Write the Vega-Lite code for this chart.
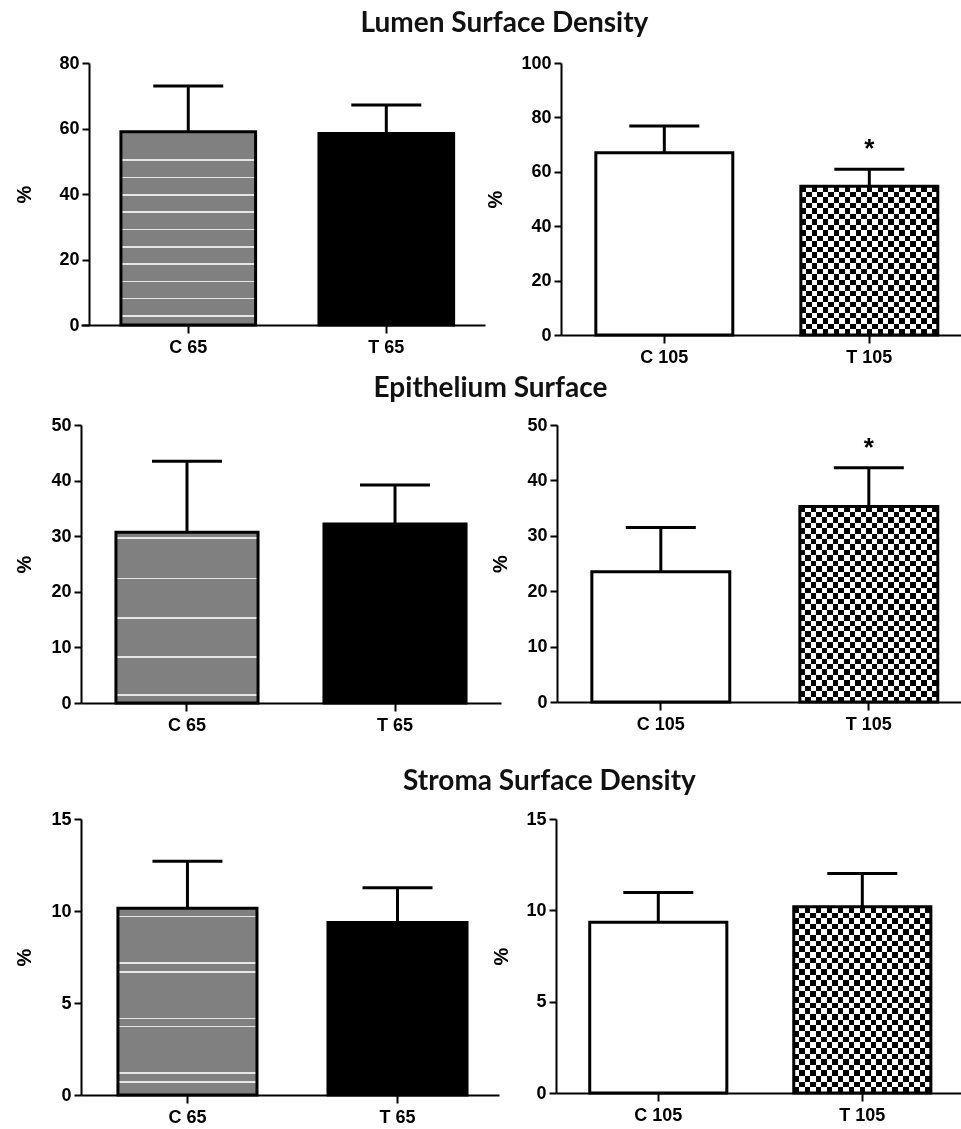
{
"$schema":"https://vega.github.io/schema/vega-lite/v6.json",
"padding":{"left":14,"top":10,"right":0,"bottom":0},
"background":"white",
"datasets":{"bars":[
{"panel":"p1","group":"C 65","mean":59,"upper":73,"sig":""},
{"panel":"p1","group":"T 65","mean":58.5,"upper":67.2,"sig":""},
{"panel":"p2","group":"C 105","mean":67,"upper":76.8,"sig":""},
{"panel":"p2","group":"T 105","mean":54.7,"upper":60.9,"sig":"*"},
{"panel":"p3","group":"C 65","mean":30.7,"upper":43.5,"sig":""},
{"panel":"p3","group":"T 65","mean":32.2,"upper":39.2,"sig":""},
{"panel":"p4","group":"C 105","mean":23.5,"upper":31.5,"sig":""},
{"panel":"p4","group":"T 105","mean":35.3,"upper":42.3,"sig":"*"},
{"panel":"p5","group":"C 65","mean":10.15,"upper":12.7,"sig":""},
{"panel":"p5","group":"T 65","mean":9.37,"upper":11.27,"sig":""},
{"panel":"p6","group":"C 105","mean":9.35,"upper":10.98,"sig":""},
{"panel":"p6","group":"T 105","mean":10.19,"upper":12.01,"sig":""}
]},
"data":{"name":"bars"},
"columns":1,
"spacing":9,
"concat":[
{"title":{"text":"Lumen Surface Density","dx":16,"offset":16,"anchor":"middle"},"spacing":0,"hconcat":[
{"width":404,"height":262,
"transform":[{"filter":"datum.panel === 'p1'"}],
"encoding":{"x":{"field":"group","type":"nominal","sort":null,"scale":{"domain":["C 65","T 65"],"paddingInner":0.32,"paddingOuter":0.18,"align":0.56},"axis":{"title":null}}},
"layer":[
{"transform":[{"filter":"datum.group === 'C 65'"}],"mark":{"type":"bar","stroke":"black","strokeWidth":3,"fill":{"gradient":"linear","x1":0,"y1":0,"x2":0,"y2":1,"stops":[{"offset":0,"color":"#808080"},{"offset":0.143,"color":"#808080"},{"offset":0.143,"color":"#e6e6e6"},{"offset":0.151,"color":"#e6e6e6"},{"offset":0.151,"color":"#808080"},{"offset":0.232,"color":"#808080"},{"offset":0.232,"color":"#e6e6e6"},{"offset":0.24,"color":"#e6e6e6"},{"offset":0.24,"color":"#808080"},{"offset":0.322,"color":"#808080"},{"offset":0.322,"color":"#e6e6e6"},{"offset":0.33,"color":"#e6e6e6"},{"offset":0.33,"color":"#808080"},{"offset":0.412,"color":"#808080"},{"offset":0.412,"color":"#e6e6e6"},{"offset":0.42,"color":"#e6e6e6"},{"offset":0.42,"color":"#808080"},{"offset":0.501,"color":"#808080"},{"offset":0.501,"color":"#e6e6e6"},{"offset":0.509,"color":"#e6e6e6"},{"offset":0.509,"color":"#808080"},{"offset":0.591,"color":"#808080"},{"offset":0.591,"color":"#e6e6e6"},{"offset":0.599,"color":"#e6e6e6"},{"offset":0.599,"color":"#808080"},{"offset":0.68,"color":"#808080"},{"offset":0.68,"color":"#e6e6e6"},{"offset":0.688,"color":"#e6e6e6"},{"offset":0.688,"color":"#808080"},{"offset":0.77,"color":"#808080"},{"offset":0.77,"color":"#e6e6e6"},{"offset":0.778,"color":"#e6e6e6"},{"offset":0.778,"color":"#808080"},{"offset":0.86,"color":"#808080"},{"offset":0.86,"color":"#e6e6e6"},{"offset":0.868,"color":"#e6e6e6"},{"offset":0.868,"color":"#808080"},{"offset":0.949,"color":"#808080"},{"offset":0.949,"color":"#e6e6e6"},{"offset":0.957,"color":"#e6e6e6"},{"offset":0.957,"color":"#808080"},{"offset":1,"color":"#808080"}]}},
"encoding":{"y":{"field":"mean","type":"quantitative","scale":{"domain":[0,80],"nice":false},"axis":{"values":[0,20,40,60,80],"title":"%","titlePadding":24,"offset":-8}}}},
{"transform":[{"filter":"datum.group === 'T 65'"}],"mark":{"type":"bar","fill":"black","stroke":"black","strokeWidth":3},
"encoding":{"y":{"field":"mean","type":"quantitative","scale":{"domain":[0,80],"nice":false},"axis":{"values":[0,20,40,60,80],"title":"%","titlePadding":24,"offset":-8}}}},
{"mark":{"type":"rule","color":"black","strokeWidth":3},
"encoding":{"y":{"field":"mean","type":"quantitative","scale":{"domain":[0,80],"nice":false},"axis":{"values":[0,20,40,60,80],"title":"%","titlePadding":24,"offset":-8}},"y2":{"field":"upper"}}},
{"mark":{"type":"tick","color":"black","opacity":1,"size":70,"thickness":3},
"encoding":{"y":{"field":"upper","type":"quantitative","scale":{"domain":[0,80],"nice":false},"axis":{"values":[0,20,40,60,80],"title":"%","titlePadding":24,"offset":-8}}}}
]},
{"width":401,"height":272,
"transform":[{"filter":"datum.panel === 'p2'"}],
"encoding":{"x":{"field":"group","type":"nominal","sort":null,"scale":{"domain":["C 105","T 105"],"paddingInner":0.332,"paddingOuter":0.144,"align":0.59},"axis":{"title":null}}},
"layer":[
{"transform":[{"filter":"datum.group === 'C 105'"}],"mark":{"type":"bar","fill":"white","stroke":"black","strokeWidth":3},
"encoding":{"y":{"field":"mean","type":"quantitative","scale":{"domain":[0,100],"nice":false},"axis":{"values":[0,20,40,60,80,100],"title":"%","titlePadding":15}}}},
{"transform":[{"filter":"datum.group === 'T 105'"}],"mark":{"type":"bar","fill":{"gradient":"linear","x1":0,"y1":0,"x2":0,"y2":1,"stops":[{"offset":0,"color":"#000"},{"offset":0.037,"color":"#000"},{"offset":0.037,"color":"#fff"},{"offset":0.0741,"color":"#fff"},{"offset":0.0741,"color":"#000"},{"offset":0.1111,"color":"#000"},{"offset":0.1111,"color":"#fff"},{"offset":0.1481,"color":"#fff"},{"offset":0.1481,"color":"#000"},{"offset":0.1852,"color":"#000"},{"offset":0.1852,"color":"#fff"},{"offset":0.2222,"color":"#fff"},{"offset":0.2222,"color":"#000"},{"offset":0.2593,"color":"#000"},{"offset":0.2593,"color":"#fff"},{"offset":0.2963,"color":"#fff"},{"offset":0.2963,"color":"#000"},{"offset":0.3333,"color":"#000"},{"offset":0.3333,"color":"#fff"},{"offset":0.3704,"color":"#fff"},{"offset":0.3704,"color":"#000"},{"offset":0.4074,"color":"#000"},{"offset":0.4074,"color":"#fff"},{"offset":0.4444,"color":"#fff"},{"offset":0.4444,"color":"#000"},{"offset":0.4815,"color":"#000"},{"offset":0.4815,"color":"#fff"},{"offset":0.5185,"color":"#fff"},{"offset":0.5185,"color":"#000"},{"offset":0.5556,"color":"#000"},{"offset":0.5556,"color":"#fff"},{"offset":0.5926,"color":"#fff"},{"offset":0.5926,"color":"#000"},{"offset":0.6296,"color":"#000"},{"offset":0.6296,"color":"#fff"},{"offset":0.6667,"color":"#fff"},{"offset":0.6667,"color":"#000"},{"offset":0.7037,"color":"#000"},{"offset":0.7037,"color":"#fff"},{"offset":0.7407,"color":"#fff"},{"offset":0.7407,"color":"#000"},{"offset":0.7778,"color":"#000"},{"offset":0.7778,"color":"#fff"},{"offset":0.8148,"color":"#fff"},{"offset":0.8148,"color":"#000"},{"offset":0.8519,"color":"#000"},{"offset":0.8519,"color":"#fff"},{"offset":0.8889,"color":"#fff"},{"offset":0.8889,"color":"#000"},{"offset":0.9259,"color":"#000"},{"offset":0.9259,"color":"#fff"},{"offset":0.963,"color":"#fff"},{"offset":0.963,"color":"#000"},{"offset":1,"color":"#000"}]}},
"encoding":{"y":{"field":"mean","type":"quantitative","scale":{"domain":[0,100],"nice":false},"axis":{"values":[0,20,40,60,80,100],"title":"%","titlePadding":15}}}},
{"transform":[{"filter":"datum.group === 'T 105'"}],"mark":{"type":"bar","blend":"difference","fill":{"gradient":"linear","x1":0,"y1":0,"x2":1,"y2":0,"stops":[{"offset":0,"color":"#000"},{"offset":0.04,"color":"#000"},{"offset":0.04,"color":"#fff"},{"offset":0.08,"color":"#fff"},{"offset":0.08,"color":"#000"},{"offset":0.12,"color":"#000"},{"offset":0.12,"color":"#fff"},{"offset":0.16,"color":"#fff"},{"offset":0.16,"color":"#000"},{"offset":0.2,"color":"#000"},{"offset":0.2,"color":"#fff"},{"offset":0.24,"color":"#fff"},{"offset":0.24,"color":"#000"},{"offset":0.28,"color":"#000"},{"offset":0.28,"color":"#fff"},{"offset":0.32,"color":"#fff"},{"offset":0.32,"color":"#000"},{"offset":0.36,"color":"#000"},{"offset":0.36,"color":"#fff"},{"offset":0.4,"color":"#fff"},{"offset":0.4,"color":"#000"},{"offset":0.44,"color":"#000"},{"offset":0.44,"color":"#fff"},{"offset":0.48,"color":"#fff"},{"offset":0.48,"color":"#000"},{"offset":0.52,"color":"#000"},{"offset":0.52,"color":"#fff"},{"offset":0.56,"color":"#fff"},{"offset":0.56,"color":"#000"},{"offset":0.6,"color":"#000"},{"offset":0.6,"color":"#fff"},{"offset":0.64,"color":"#fff"},{"offset":0.64,"color":"#000"},{"offset":0.68,"color":"#000"},{"offset":0.68,"color":"#fff"},{"offset":0.72,"color":"#fff"},{"offset":0.72,"color":"#000"},{"offset":0.76,"color":"#000"},{"offset":0.76,"color":"#fff"},{"offset":0.8,"color":"#fff"},{"offset":0.8,"color":"#000"},{"offset":0.84,"color":"#000"},{"offset":0.84,"color":"#fff"},{"offset":0.88,"color":"#fff"},{"offset":0.88,"color":"#000"},{"offset":0.92,"color":"#000"},{"offset":0.92,"color":"#fff"},{"offset":0.96,"color":"#fff"},{"offset":0.96,"color":"#000"},{"offset":1,"color":"#000"}]}},
"encoding":{"y":{"field":"mean","type":"quantitative","scale":{"domain":[0,100],"nice":false},"axis":{"values":[0,20,40,60,80,100],"title":"%","titlePadding":15}}}},
{"transform":[{"filter":"datum.group === 'T 105'"}],"mark":{"type":"bar","filled":false,"color":"black","stroke":"black","strokeWidth":3},
"encoding":{"y":{"field":"mean","type":"quantitative","scale":{"domain":[0,100],"nice":false},"axis":{"values":[0,20,40,60,80,100],"title":"%","titlePadding":15}}}},
{"mark":{"type":"rule","color":"black","strokeWidth":3},
"encoding":{"y":{"field":"mean","type":"quantitative","scale":{"domain":[0,100],"nice":false},"axis":{"values":[0,20,40,60,80,100],"title":"%","titlePadding":15}},"y2":{"field":"upper"}}},
{"mark":{"type":"tick","color":"black","opacity":1,"size":70,"thickness":3},
"encoding":{"y":{"field":"upper","type":"quantitative","scale":{"domain":[0,100],"nice":false},"axis":{"values":[0,20,40,60,80,100],"title":"%","titlePadding":15}}}},
{"mark":{"type":"text","font":"Liberation Sans","fontSize":26,"fontWeight":"bold","color":"black","baseline":"alphabetic","dy":-12},
"encoding":{"y":{"field":"upper","type":"quantitative","scale":{"domain":[0,100],"nice":false},"axis":{"values":[0,20,40,60,80,100],"title":"%","titlePadding":15}},"text":{"field":"sig"}}}
]}
]},
{"columns":1,"spacing":34,"concat":[
{"title":{"text":"Epithelium Surface","dx":2,"offset":13,"anchor":"middle"},"spacing":-11,"hconcat":[
{"width":420,"height":278,
"transform":[{"filter":"datum.panel === 'p3'"}],
"encoding":{"x":{"field":"group","type":"nominal","sort":null,"scale":{"domain":["C 65","T 65"],"paddingInner":0.317,"paddingOuter":0.168,"align":0.5},"axis":{"title":null}}},
"layer":[
{"transform":[{"filter":"datum.group === 'C 65'"}],"mark":{"type":"bar","stroke":"black","strokeWidth":3,"fill":{"gradient":"linear","x1":0,"y1":0,"x2":0,"y2":1,"stops":[{"offset":0,"color":"#808080"},{"offset":0.03,"color":"#808080"},{"offset":0.03,"color":"#e6e6e6"},{"offset":0.04,"color":"#e6e6e6"},{"offset":0.04,"color":"#808080"},{"offset":0.265,"color":"#808080"},{"offset":0.265,"color":"#e6e6e6"},{"offset":0.275,"color":"#e6e6e6"},{"offset":0.275,"color":"#808080"},{"offset":0.495,"color":"#808080"},{"offset":0.495,"color":"#e6e6e6"},{"offset":0.505,"color":"#e6e6e6"},{"offset":0.505,"color":"#808080"},{"offset":0.725,"color":"#808080"},{"offset":0.725,"color":"#e6e6e6"},{"offset":0.735,"color":"#e6e6e6"},{"offset":0.735,"color":"#808080"},{"offset":0.95,"color":"#808080"},{"offset":0.95,"color":"#e6e6e6"},{"offset":0.96,"color":"#e6e6e6"},{"offset":0.96,"color":"#808080"},{"offset":1,"color":"#808080"}]}},
"encoding":{"y":{"field":"mean","type":"quantitative","scale":{"domain":[0,50],"nice":false},"axis":{"values":[0,10,20,30,40,50],"title":"%","titlePadding":16}}}},
{"transform":[{"filter":"datum.group === 'T 65'"}],"mark":{"type":"bar","fill":"black","stroke":"black","strokeWidth":3},
"encoding":{"y":{"field":"mean","type":"quantitative","scale":{"domain":[0,50],"nice":false},"axis":{"values":[0,10,20,30,40,50],"title":"%","titlePadding":16}}}},
{"mark":{"type":"rule","color":"black","strokeWidth":3},
"encoding":{"y":{"field":"mean","type":"quantitative","scale":{"domain":[0,50],"nice":false},"axis":{"values":[0,10,20,30,40,50],"title":"%","titlePadding":16}},"y2":{"field":"upper"}}},
{"mark":{"type":"tick","color":"black","opacity":1,"size":70,"thickness":3},
"encoding":{"y":{"field":"upper","type":"quantitative","scale":{"domain":[0,50],"nice":false},"axis":{"values":[0,10,20,30,40,50],"title":"%","titlePadding":16}}}}
]},
{"width":405,"height":277,
"transform":[{"filter":"datum.panel === 'p4'"}],
"encoding":{"x":{"field":"group","type":"nominal","sort":null,"scale":{"domain":["C 105","T 105"],"paddingInner":0.337,"paddingOuter":0.142,"align":0.59},"axis":{"title":null}}},
"layer":[
{"transform":[{"filter":"datum.group === 'C 105'"}],"mark":{"type":"bar","fill":"white","stroke":"black","strokeWidth":3},
"encoding":{"y":{"field":"mean","type":"quantitative","scale":{"domain":[0,50],"nice":false},"axis":{"values":[0,10,20,30,40,50],"title":"%","titlePadding":16}}}},
{"transform":[{"filter":"datum.group === 'T 105'"}],"mark":{"type":"bar","fill":{"gradient":"linear","x1":0,"y1":0,"x2":0,"y2":1,"stops":[{"offset":0,"color":"#000"},{"offset":0.0278,"color":"#000"},{"offset":0.0278,"color":"#fff"},{"offset":0.0556,"color":"#fff"},{"offset":0.0556,"color":"#000"},{"offset":0.0833,"color":"#000"},{"offset":0.0833,"color":"#fff"},{"offset":0.1111,"color":"#fff"},{"offset":0.1111,"color":"#000"},{"offset":0.1389,"color":"#000"},{"offset":0.1389,"color":"#fff"},{"offset":0.1667,"color":"#fff"},{"offset":0.1667,"color":"#000"},{"offset":0.1944,"color":"#000"},{"offset":0.1944,"color":"#fff"},{"offset":0.2222,"color":"#fff"},{"offset":0.2222,"color":"#000"},{"offset":0.25,"color":"#000"},{"offset":0.25,"color":"#fff"},{"offset":0.2778,"color":"#fff"},{"offset":0.2778,"color":"#000"},{"offset":0.3056,"color":"#000"},{"offset":0.3056,"color":"#fff"},{"offset":0.3333,"color":"#fff"},{"offset":0.3333,"color":"#000"},{"offset":0.3611,"color":"#000"},{"offset":0.3611,"color":"#fff"},{"offset":0.3889,"color":"#fff"},{"offset":0.3889,"color":"#000"},{"offset":0.4167,"color":"#000"},{"offset":0.4167,"color":"#fff"},{"offset":0.4444,"color":"#fff"},{"offset":0.4444,"color":"#000"},{"offset":0.4722,"color":"#000"},{"offset":0.4722,"color":"#fff"},{"offset":0.5,"color":"#fff"},{"offset":0.5,"color":"#000"},{"offset":0.5278,"color":"#000"},{"offset":0.5278,"color":"#fff"},{"offset":0.5556,"color":"#fff"},{"offset":0.5556,"color":"#000"},{"offset":0.5833,"color":"#000"},{"offset":0.5833,"color":"#fff"},{"offset":0.6111,"color":"#fff"},{"offset":0.6111,"color":"#000"},{"offset":0.6389,"color":"#000"},{"offset":0.6389,"color":"#fff"},{"offset":0.6667,"color":"#fff"},{"offset":0.6667,"color":"#000"},{"offset":0.6944,"color":"#000"},{"offset":0.6944,"color":"#fff"},{"offset":0.7222,"color":"#fff"},{"offset":0.7222,"color":"#000"},{"offset":0.75,"color":"#000"},{"offset":0.75,"color":"#fff"},{"offset":0.7778,"color":"#fff"},{"offset":0.7778,"color":"#000"},{"offset":0.8056,"color":"#000"},{"offset":0.8056,"color":"#fff"},{"offset":0.8333,"color":"#fff"},{"offset":0.8333,"color":"#000"},{"offset":0.8611,"color":"#000"},{"offset":0.8611,"color":"#fff"},{"offset":0.8889,"color":"#fff"},{"offset":0.8889,"color":"#000"},{"offset":0.9167,"color":"#000"},{"offset":0.9167,"color":"#fff"},{"offset":0.9444,"color":"#fff"},{"offset":0.9444,"color":"#000"},{"offset":0.9722,"color":"#000"},{"offset":0.9722,"color":"#fff"},{"offset":1,"color":"#fff"}]}},
"encoding":{"y":{"field":"mean","type":"quantitative","scale":{"domain":[0,50],"nice":false},"axis":{"values":[0,10,20,30,40,50],"title":"%","titlePadding":16}}}},
{"transform":[{"filter":"datum.group === 'T 105'"}],"mark":{"type":"bar","blend":"difference","fill":{"gradient":"linear","x1":0,"y1":0,"x2":1,"y2":0,"stops":[{"offset":0,"color":"#000"},{"offset":0.04,"color":"#000"},{"offset":0.04,"color":"#fff"},{"offset":0.08,"color":"#fff"},{"offset":0.08,"color":"#000"},{"offset":0.12,"color":"#000"},{"offset":0.12,"color":"#fff"},{"offset":0.16,"color":"#fff"},{"offset":0.16,"color":"#000"},{"offset":0.2,"color":"#000"},{"offset":0.2,"color":"#fff"},{"offset":0.24,"color":"#fff"},{"offset":0.24,"color":"#000"},{"offset":0.28,"color":"#000"},{"offset":0.28,"color":"#fff"},{"offset":0.32,"color":"#fff"},{"offset":0.32,"color":"#000"},{"offset":0.36,"color":"#000"},{"offset":0.36,"color":"#fff"},{"offset":0.4,"color":"#fff"},{"offset":0.4,"color":"#000"},{"offset":0.44,"color":"#000"},{"offset":0.44,"color":"#fff"},{"offset":0.48,"color":"#fff"},{"offset":0.48,"color":"#000"},{"offset":0.52,"color":"#000"},{"offset":0.52,"color":"#fff"},{"offset":0.56,"color":"#fff"},{"offset":0.56,"color":"#000"},{"offset":0.6,"color":"#000"},{"offset":0.6,"color":"#fff"},{"offset":0.64,"color":"#fff"},{"offset":0.64,"color":"#000"},{"offset":0.68,"color":"#000"},{"offset":0.68,"color":"#fff"},{"offset":0.72,"color":"#fff"},{"offset":0.72,"color":"#000"},{"offset":0.76,"color":"#000"},{"offset":0.76,"color":"#fff"},{"offset":0.8,"color":"#fff"},{"offset":0.8,"color":"#000"},{"offset":0.84,"color":"#000"},{"offset":0.84,"color":"#fff"},{"offset":0.88,"color":"#fff"},{"offset":0.88,"color":"#000"},{"offset":0.92,"color":"#000"},{"offset":0.92,"color":"#fff"},{"offset":0.96,"color":"#fff"},{"offset":0.96,"color":"#000"},{"offset":1,"color":"#000"}]}},
"encoding":{"y":{"field":"mean","type":"quantitative","scale":{"domain":[0,50],"nice":false},"axis":{"values":[0,10,20,30,40,50],"title":"%","titlePadding":16}}}},
{"transform":[{"filter":"datum.group === 'T 105'"}],"mark":{"type":"bar","filled":false,"color":"black","stroke":"black","strokeWidth":3},
"encoding":{"y":{"field":"mean","type":"quantitative","scale":{"domain":[0,50],"nice":false},"axis":{"values":[0,10,20,30,40,50],"title":"%","titlePadding":16}}}},
{"mark":{"type":"rule","color":"black","strokeWidth":3},
"encoding":{"y":{"field":"mean","type":"quantitative","scale":{"domain":[0,50],"nice":false},"axis":{"values":[0,10,20,30,40,50],"title":"%","titlePadding":16}},"y2":{"field":"upper"}}},
{"mark":{"type":"tick","color":"black","opacity":1,"size":70,"thickness":3},
"encoding":{"y":{"field":"upper","type":"quantitative","scale":{"domain":[0,50],"nice":false},"axis":{"values":[0,10,20,30,40,50],"title":"%","titlePadding":16}}}},
{"mark":{"type":"text","font":"Liberation Sans","fontSize":26,"fontWeight":"bold","color":"black","baseline":"alphabetic","dy":-12},
"encoding":{"y":{"field":"upper","type":"quantitative","scale":{"domain":[0,50],"nice":false},"axis":{"values":[0,10,20,30,40,50],"title":"%","titlePadding":16}},"text":{"field":"sig"}}}
]}
]},
{"title":{"text":"Stroma Surface Density","dx":61,"offset":14,"anchor":"middle"},"spacing":-8,"hconcat":[
{"width":418,"height":276,
"transform":[{"filter":"datum.panel === 'p5'"}],
"encoding":{"x":{"field":"group","type":"nominal","sort":null,"scale":{"domain":["C 65","T 65"],"paddingInner":0.338,"paddingOuter":0.164,"align":0.536},"axis":{"title":null}}},
"layer":[
{"transform":[{"filter":"datum.group === 'C 65'"}],"mark":{"type":"bar","stroke":"black","strokeWidth":3,"fill":{"gradient":"linear","x1":0,"y1":0,"x2":0,"y2":1,"stops":[{"offset":0,"color":"#808080"},{"offset":0.0405,"color":"#808080"},{"offset":0.0405,"color":"#e6e6e6"},{"offset":0.0495,"color":"#e6e6e6"},{"offset":0.0495,"color":"#808080"},{"offset":0.2905,"color":"#808080"},{"offset":0.2905,"color":"#e6e6e6"},{"offset":0.2995,"color":"#e6e6e6"},{"offset":0.2995,"color":"#808080"},{"offset":0.3355,"color":"#808080"},{"offset":0.3355,"color":"#e6e6e6"},{"offset":0.3445,"color":"#e6e6e6"},{"offset":0.3445,"color":"#808080"},{"offset":0.5855,"color":"#808080"},{"offset":0.5855,"color":"#e6e6e6"},{"offset":0.5945,"color":"#e6e6e6"},{"offset":0.5945,"color":"#808080"},{"offset":0.6295,"color":"#808080"},{"offset":0.6295,"color":"#e6e6e6"},{"offset":0.6385,"color":"#e6e6e6"},{"offset":0.6385,"color":"#808080"},{"offset":0.8795,"color":"#808080"},{"offset":0.8795,"color":"#e6e6e6"},{"offset":0.8885,"color":"#e6e6e6"},{"offset":0.8885,"color":"#808080"},{"offset":0.9245,"color":"#808080"},{"offset":0.9245,"color":"#e6e6e6"},{"offset":0.9335,"color":"#e6e6e6"},{"offset":0.9335,"color":"#808080"},{"offset":1,"color":"#808080"}]}},
"encoding":{"y":{"field":"mean","type":"quantitative","scale":{"domain":[0,15],"nice":false},"axis":{"values":[0,5,10,15],"title":"%","titlePadding":16}}}},
{"transform":[{"filter":"datum.group === 'T 65'"}],"mark":{"type":"bar","fill":"black","stroke":"black","strokeWidth":3},
"encoding":{"y":{"field":"mean","type":"quantitative","scale":{"domain":[0,15],"nice":false},"axis":{"values":[0,5,10,15],"title":"%","titlePadding":16}}}},
{"mark":{"type":"rule","color":"black","strokeWidth":3},
"encoding":{"y":{"field":"mean","type":"quantitative","scale":{"domain":[0,15],"nice":false},"axis":{"values":[0,5,10,15],"title":"%","titlePadding":16}},"y2":{"field":"upper"}}},
{"mark":{"type":"tick","color":"black","opacity":1,"size":70,"thickness":3},
"encoding":{"y":{"field":"upper","type":"quantitative","scale":{"domain":[0,15],"nice":false},"axis":{"values":[0,5,10,15],"title":"%","titlePadding":16}}}}
]},
{"width":406,"height":274,
"transform":[{"filter":"datum.panel === 'p6'"}],
"encoding":{"x":{"field":"group","type":"nominal","sort":null,"scale":{"domain":["C 105","T 105"],"paddingInner":0.328,"paddingOuter":0.159,"align":0.52},"axis":{"title":null}}},
"layer":[
{"transform":[{"filter":"datum.group === 'C 105'"}],"mark":{"type":"bar","fill":"white","stroke":"black","strokeWidth":3},
"encoding":{"y":{"field":"mean","type":"quantitative","scale":{"domain":[0,15],"nice":false},"axis":{"values":[0,5,10,15],"title":"%","titlePadding":14}}}},
{"transform":[{"filter":"datum.group === 'T 105'"}],"mark":{"type":"bar","fill":{"gradient":"linear","x1":0,"y1":0,"x2":0,"y2":1,"stops":[{"offset":0,"color":"#000"},{"offset":0.0303,"color":"#000"},{"offset":0.0303,"color":"#fff"},{"offset":0.0606,"color":"#fff"},{"offset":0.0606,"color":"#000"},{"offset":0.0909,"color":"#000"},{"offset":0.0909,"color":"#fff"},{"offset":0.1212,"color":"#fff"},{"offset":0.1212,"color":"#000"},{"offset":0.1515,"color":"#000"},{"offset":0.1515,"color":"#fff"},{"offset":0.1818,"color":"#fff"},{"offset":0.1818,"color":"#000"},{"offset":0.2121,"color":"#000"},{"offset":0.2121,"color":"#fff"},{"offset":0.2424,"color":"#fff"},{"offset":0.2424,"color":"#000"},{"offset":0.2727,"color":"#000"},{"offset":0.2727,"color":"#fff"},{"offset":0.303,"color":"#fff"},{"offset":0.303,"color":"#000"},{"offset":0.3333,"color":"#000"},{"offset":0.3333,"color":"#fff"},{"offset":0.3636,"color":"#fff"},{"offset":0.3636,"color":"#000"},{"offset":0.3939,"color":"#000"},{"offset":0.3939,"color":"#fff"},{"offset":0.4242,"color":"#fff"},{"offset":0.4242,"color":"#000"},{"offset":0.4545,"color":"#000"},{"offset":0.4545,"color":"#fff"},{"offset":0.4848,"color":"#fff"},{"offset":0.4848,"color":"#000"},{"offset":0.5152,"color":"#000"},{"offset":0.5152,"color":"#fff"},{"offset":0.5455,"color":"#fff"},{"offset":0.5455,"color":"#000"},{"offset":0.5758,"color":"#000"},{"offset":0.5758,"color":"#fff"},{"offset":0.6061,"color":"#fff"},{"offset":0.6061,"color":"#000"},{"offset":0.6364,"color":"#000"},{"offset":0.6364,"color":"#fff"},{"offset":0.6667,"color":"#fff"},{"offset":0.6667,"color":"#000"},{"offset":0.697,"color":"#000"},{"offset":0.697,"color":"#fff"},{"offset":0.7273,"color":"#fff"},{"offset":0.7273,"color":"#000"},{"offset":0.7576,"color":"#000"},{"offset":0.7576,"color":"#fff"},{"offset":0.7879,"color":"#fff"},{"offset":0.7879,"color":"#000"},{"offset":0.8182,"color":"#000"},{"offset":0.8182,"color":"#fff"},{"offset":0.8485,"color":"#fff"},{"offset":0.8485,"color":"#000"},{"offset":0.8788,"color":"#000"},{"offset":0.8788,"color":"#fff"},{"offset":0.9091,"color":"#fff"},{"offset":0.9091,"color":"#000"},{"offset":0.9394,"color":"#000"},{"offset":0.9394,"color":"#fff"},{"offset":0.9697,"color":"#fff"},{"offset":0.9697,"color":"#000"},{"offset":1,"color":"#000"}]}},
"encoding":{"y":{"field":"mean","type":"quantitative","scale":{"domain":[0,15],"nice":false},"axis":{"values":[0,5,10,15],"title":"%","titlePadding":14}}}},
{"transform":[{"filter":"datum.group === 'T 105'"}],"mark":{"type":"bar","blend":"difference","fill":{"gradient":"linear","x1":0,"y1":0,"x2":1,"y2":0,"stops":[{"offset":0,"color":"#000"},{"offset":0.04,"color":"#000"},{"offset":0.04,"color":"#fff"},{"offset":0.08,"color":"#fff"},{"offset":0.08,"color":"#000"},{"offset":0.12,"color":"#000"},{"offset":0.12,"color":"#fff"},{"offset":0.16,"color":"#fff"},{"offset":0.16,"color":"#000"},{"offset":0.2,"color":"#000"},{"offset":0.2,"color":"#fff"},{"offset":0.24,"color":"#fff"},{"offset":0.24,"color":"#000"},{"offset":0.28,"color":"#000"},{"offset":0.28,"color":"#fff"},{"offset":0.32,"color":"#fff"},{"offset":0.32,"color":"#000"},{"offset":0.36,"color":"#000"},{"offset":0.36,"color":"#fff"},{"offset":0.4,"color":"#fff"},{"offset":0.4,"color":"#000"},{"offset":0.44,"color":"#000"},{"offset":0.44,"color":"#fff"},{"offset":0.48,"color":"#fff"},{"offset":0.48,"color":"#000"},{"offset":0.52,"color":"#000"},{"offset":0.52,"color":"#fff"},{"offset":0.56,"color":"#fff"},{"offset":0.56,"color":"#000"},{"offset":0.6,"color":"#000"},{"offset":0.6,"color":"#fff"},{"offset":0.64,"color":"#fff"},{"offset":0.64,"color":"#000"},{"offset":0.68,"color":"#000"},{"offset":0.68,"color":"#fff"},{"offset":0.72,"color":"#fff"},{"offset":0.72,"color":"#000"},{"offset":0.76,"color":"#000"},{"offset":0.76,"color":"#fff"},{"offset":0.8,"color":"#fff"},{"offset":0.8,"color":"#000"},{"offset":0.84,"color":"#000"},{"offset":0.84,"color":"#fff"},{"offset":0.88,"color":"#fff"},{"offset":0.88,"color":"#000"},{"offset":0.92,"color":"#000"},{"offset":0.92,"color":"#fff"},{"offset":0.96,"color":"#fff"},{"offset":0.96,"color":"#000"},{"offset":1,"color":"#000"}]}},
"encoding":{"y":{"field":"mean","type":"quantitative","scale":{"domain":[0,15],"nice":false},"axis":{"values":[0,5,10,15],"title":"%","titlePadding":14}}}},
{"transform":[{"filter":"datum.group === 'T 105'"}],"mark":{"type":"bar","filled":false,"color":"black","stroke":"black","strokeWidth":3},
"encoding":{"y":{"field":"mean","type":"quantitative","scale":{"domain":[0,15],"nice":false},"axis":{"values":[0,5,10,15],"title":"%","titlePadding":14}}}},
{"mark":{"type":"rule","color":"black","strokeWidth":3},
"encoding":{"y":{"field":"mean","type":"quantitative","scale":{"domain":[0,15],"nice":false},"axis":{"values":[0,5,10,15],"title":"%","titlePadding":14}},"y2":{"field":"upper"}}},
{"mark":{"type":"tick","color":"black","opacity":1,"size":70,"thickness":3},
"encoding":{"y":{"field":"upper","type":"quantitative","scale":{"domain":[0,15],"nice":false},"axis":{"values":[0,5,10,15],"title":"%","titlePadding":14}}}}
]}
]}
]}
],
"config":{
"view":{"stroke":null},
"title":{"font":"Lato","fontSize":28,"fontWeight":"bold","color":"#111111","anchor":"middle"},
"axis":{"domainColor":"black","domainWidth":2,"tickColor":"black","tickWidth":2,"labelColor":"black","labelFont":"Liberation Sans","labelFontSize":18,"labelFontWeight":"bold","titleFont":"Liberation Sans","titleFontSize":20,"titleFontWeight":"bold","titleColor":"black","grid":false},
"axisX":{"tickSize":8,"labelPadding":5,"labelAngle":0},
"axisY":{"tickSize":7,"labelPadding":3}
}
}
